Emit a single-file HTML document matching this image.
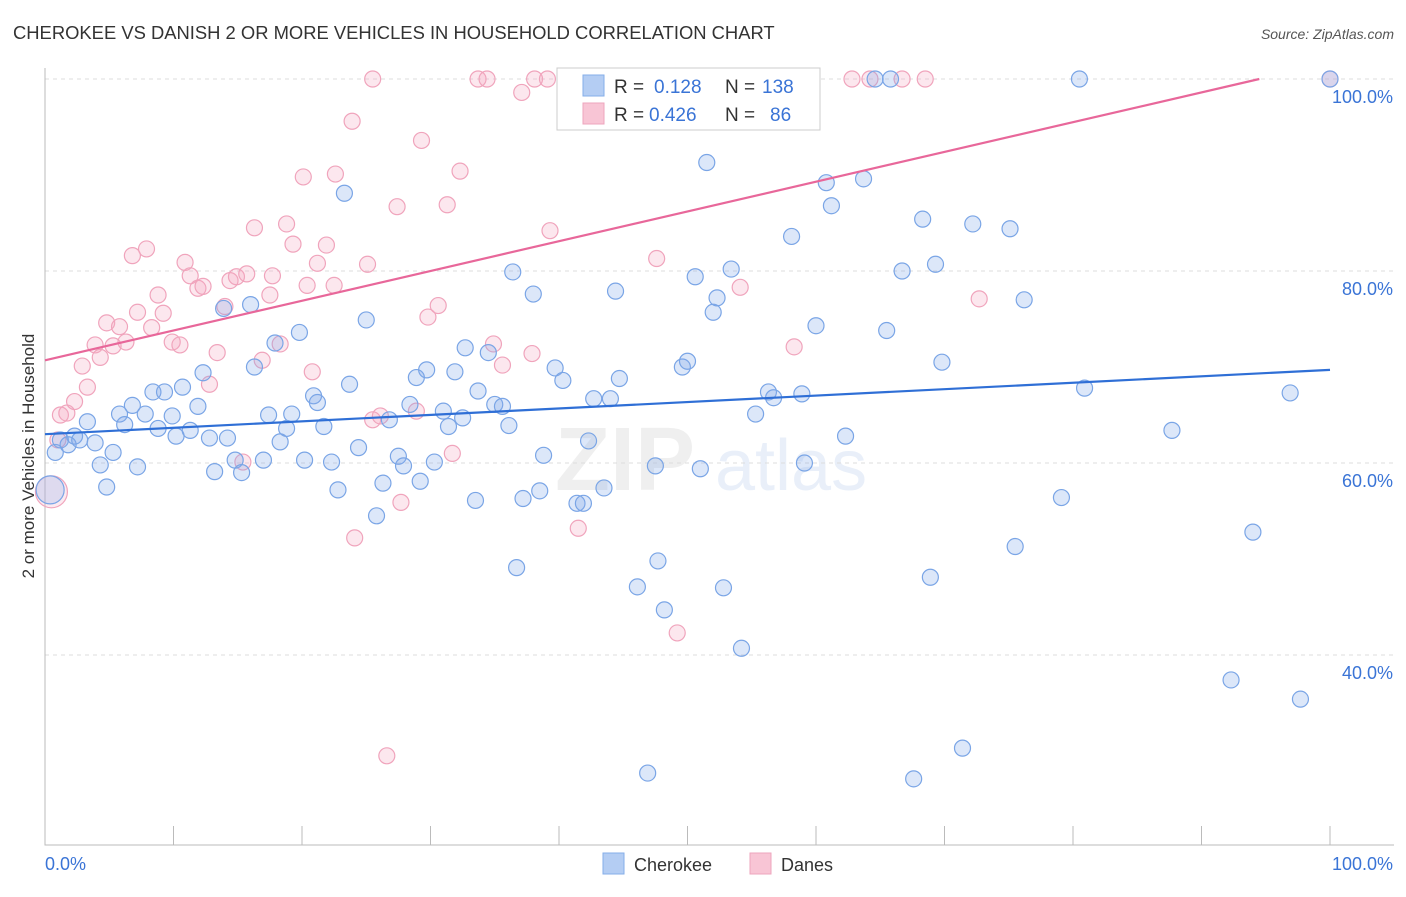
<!DOCTYPE html>
<html><head><meta charset="utf-8">
<style>
body{margin:0;background:#fff;font-family:"Liberation Sans",sans-serif;}
svg text{font-family:"Liberation Sans",sans-serif;}
</style></head>
<body>
<svg id="chart" width="1406" height="892" xmlns="http://www.w3.org/2000/svg">
<text x="13" y="39" font-size="18.4" fill="#333">CHEROKEE VS DANISH 2 OR MORE VEHICLES IN HOUSEHOLD CORRELATION CHART</text>
<text x="1394" y="39" font-size="14" fill="#555" text-anchor="end" font-style="italic">Source: ZipAtlas.com</text>
<g opacity="0.13">
<text x="555" y="490" font-size="90" font-family="Liberation Serif" fill="#888" font-weight="bold">ZIP</text>
<text x="715" y="490" font-size="72" fill="#5b8ed8">atlas</text>
</g>
<g id="grid"></g>
<g id="axes"></g>
<g id="pts"></g>
<g id="lines"></g>
<text transform="translate(34,456) rotate(-90)" font-size="17" fill="#333" text-anchor="middle">2 or more Vehicles in Household</text>
<g>
<rect x="557" y="68" width="263" height="62" fill="#fff" stroke="#ccc"/>
<rect x="583" y="75" width="21" height="21" fill="#b4cdf3" stroke="#85aee8"/>
<rect x="583" y="103" width="21" height="21" fill="#f8c5d5" stroke="#eea5bd"/>
<text x="614" y="93" font-size="19" fill="#333">R =</text><text x="654" y="93" font-size="19" fill="#3a74d6">0.128</text>
<text x="725" y="93" font-size="19" fill="#333">N =</text><text x="762" y="93" font-size="19" fill="#3a74d6">138</text>
<text x="614" y="121" font-size="19" fill="#333">R =</text><text x="649" y="121" font-size="19" fill="#3a74d6">0.426</text>
<text x="725" y="121" font-size="19" fill="#333">N =</text><text x="770" y="121" font-size="19" fill="#3a74d6">86</text>
</g>
<g>
<rect x="603" y="853" width="21" height="21" fill="#b4cdf3" stroke="#85aee8"/>
<text x="634" y="871" font-size="18" fill="#333">Cherokee</text></g>
<g>
<rect x="750" y="853" width="21" height="21" fill="#f8c5d5" stroke="#eea5bd"/>
<text x="781" y="871" font-size="18" fill="#333">Danes</text></g>
</svg>
<script>
const blueX=[0.8,1.2,1.8,2.3,2.7,3.3,3.9,4.3,4.8,5.3,5.8,6.2,6.8,7.2,7.8,8.4,8.8,9.3,9.9,10.2,10.7,11.3,11.9,12.3,12.8,13.2,13.9,14.2,14.8,15.3,16.0,16.3,17.0,17.4,17.9,18.3,18.8,19.2,19.8,20.2,20.9,21.2,21.7,22.3,22.8,23.3,23.7,24.4,25.0,25.8,26.3,26.8,27.5,27.9,28.4,28.9,29.2,29.7,30.3,31.0,31.4,31.9,32.5,32.7,33.5,33.7,34.5,35.0,35.6,36.1,36.4,36.7,37.2,38.0,38.5,38.8,39.7,40.3,41.4,41.9,42.3,42.7,43.5,44.0,44.4,44.7,46.1,46.9,47.5,47.7,48.2,49.6,50.0,50.6,51.0,51.5,52.0,52.3,52.8,53.4,54.2,55.3,56.3,56.7,58.1,58.9,59.1,60.0,60.8,61.2,62.3,63.7,64.6,65.5,65.8,66.7,67.6,68.3,68.9,69.3,69.8,71.4,72.2,75.1,75.5,76.2,79.1,80.5,80.9,87.7,92.3,94.0,96.9,97.7,100];
const blueY=[61.1,62.4,61.9,62.8,62.4,64.3,62.1,59.8,57.5,61.1,65.1,64.0,66.0,59.6,65.1,67.4,63.6,67.4,64.9,62.8,67.9,63.4,65.9,69.4,62.6,59.1,76.1,62.6,60.3,59.0,76.5,70.0,60.3,65.0,72.5,62.2,63.6,65.1,73.6,60.3,67.0,66.3,63.8,60.1,57.2,88.1,68.2,61.6,74.9,54.5,57.9,64.5,60.7,59.7,66.1,68.9,58.1,69.7,60.1,65.4,63.8,69.5,64.7,72.0,56.1,67.5,71.5,66.1,65.9,63.9,79.9,49.1,56.3,77.6,57.1,60.8,69.9,68.6,55.8,55.8,62.3,66.7,57.4,66.7,77.9,68.8,47.1,27.7,59.7,49.8,44.7,70.0,70.6,79.4,59.4,91.3,75.7,77.2,47.0,80.2,40.7,65.1,67.4,66.8,83.6,67.2,60.0,74.3,89.2,86.8,62.8,89.6,100,73.8,100,80.0,27.1,85.4,48.1,80.7,70.5,30.3,84.9,84.4,51.3,77.0,56.4,100,67.8,63.4,37.4,52.8,67.3,35.4,100];
const pinkX=[1.2,1.0,1.7,2.3,2.9,3.3,3.9,4.3,4.8,5.3,5.8,6.3,6.8,7.2,7.9,8.3,8.8,9.2,9.9,10.5,10.9,11.3,11.9,12.3,12.8,13.4,14.0,14.4,14.9,15.4,15.7,16.3,16.9,17.5,17.7,18.3,18.8,19.3,20.1,20.4,20.8,21.2,21.9,22.5,22.6,23.9,24.1,25.1,25.5,25.5,26.1,26.6,27.4,27.7,28.9,29.3,29.8,30.6,31.3,31.7,32.3,33.7,34.4,34.9,35.6,37.1,38.1,39.1,37.9,39.3,41.5,47.6,49.2,52.1,54.1,58.3,62.8,64.2,66.7,68.5,72.7,100];
const pinkY=[65.0,62.4,65.2,66.4,70.1,67.9,72.3,71.0,74.6,72.2,74.2,72.6,81.6,75.7,82.3,74.1,77.5,75.6,72.6,72.3,80.9,79.5,78.2,78.4,68.2,71.5,76.3,79.0,79.4,60.1,79.7,84.5,70.7,77.5,79.5,72.4,84.9,82.8,89.8,78.5,69.5,80.8,82.7,78.5,90.1,95.6,52.2,80.7,100,64.5,64.9,29.5,86.7,55.9,65.4,93.6,75.2,76.4,86.9,61.0,90.4,100,100,72.4,70.2,98.6,100,100,71.4,84.2,53.2,81.3,42.3,100,78.3,72.1,100,100,100,100,77.1,100];
const blueLine=[63.0,69.7];
const pinkLine=[70.7,100,94.5];
const yTicks=[40,60,80,100];
const xTickCount=10;

const NS="http://www.w3.org/2000/svg";
const sx=v=>45+v*12.85, sy=v=>1039-v*9.6;
function mk(t,a,p){const e=document.createElementNS(NS,t);for(const k in a)e.setAttribute(k,a[k]);p.appendChild(e);return e;}
const grid=document.getElementById('grid'),axes=document.getElementById('axes'),pts=document.getElementById('pts'),lines=document.getElementById('lines');
yTicks.forEach(t=>{
 const l=mk('line',{x1:45,x2:1394,y1:sy(t),y2:sy(t),stroke:'#ddd','stroke-dasharray':'4,4'},grid);
 
 
 const tx=mk('text',{x:1393,y:sy(t)+24,'font-size':18,fill:'#3a74d6','text-anchor':'end'},axes);
 tx.textContent=t.toFixed(1)+'%';
 
 
});
const ax=mk('path',{d:'M45,68V845H1394',stroke:'#bbb',fill:'none'},axes);


for(let i=0;i<=xTickCount;i++){
 const tk=mk('line',{x1:sx(i*10),x2:sx(i*10),y1:826,y2:845,stroke:'#bbb'},axes);
 
 
}
const x0=mk('text',{x:45,y:870,'font-size':18,fill:'#3a74d6'},axes);x0.textContent='0.0%';


const x1=mk('text',{x:1393,y:870,'font-size':18,fill:'#3a74d6','text-anchor':'end'},axes);x1.textContent='100.0%';


function dot(x,y,r,f,s,name){const c=mk('circle',{cx:sx(x),cy:sy(y),r:r,fill:f,stroke:s,'stroke-width':1.2},pts);
 
 }
pinkX.forEach((x,i)=>dot(x,pinkY[i],8,'rgba(244,170,195,0.28)','#f0a4bc','point-danes'));
blueX.forEach((x,i)=>dot(x,blueY[i],8,'rgba(130,170,235,0.28)','#7aa5e6','point-cherokee'));
dot(0.5,57,16,'rgba(244,170,195,0.25)','#f0a4bc','point-danes-large');
dot(0.4,57.2,14,'rgba(130,170,235,0.25)','#7aa5e6','point-cherokee-large');
const bl=mk('line',{x1:sx(0),y1:sy(blueLine[0]),x2:sx(100),y2:sy(blueLine[1]),stroke:'#2f6fd6','stroke-width':2.2},lines);


const pl=mk('line',{x1:sx(0),y1:sy(pinkLine[0]),x2:sx(pinkLine[2]),y2:sy(pinkLine[1]),stroke:'#e8679a','stroke-width':2.2},lines);


</script>
</body></html>
